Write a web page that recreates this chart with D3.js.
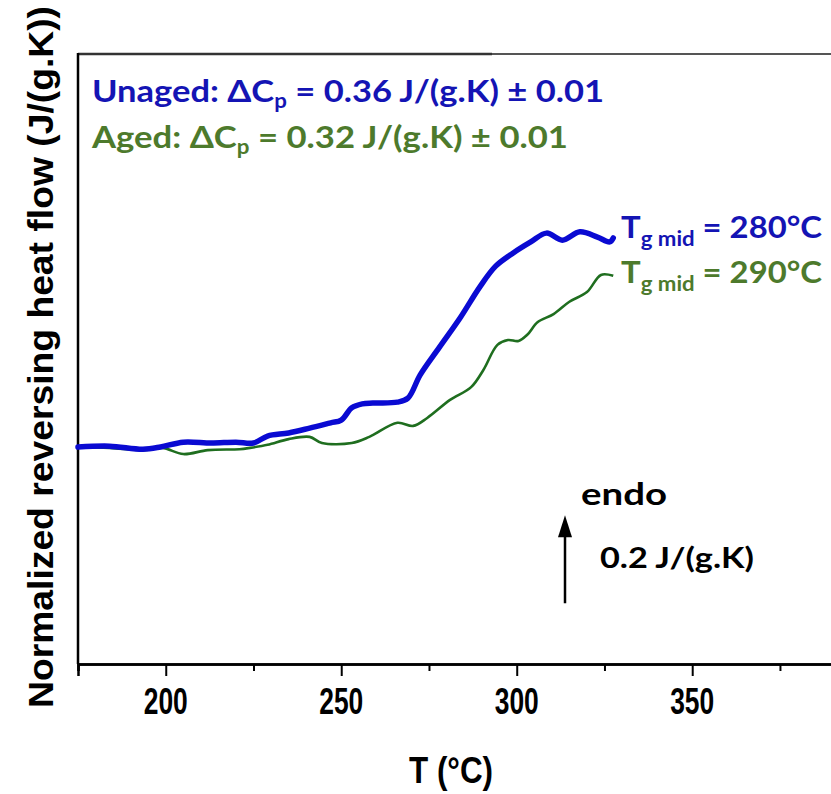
<!DOCTYPE html>
<html>
<head>
<meta charset="utf-8">
<script src="https://cdn.jsdelivr.net/npm/d3@7"></script>
<style>
  body { margin: 0; background: #fff; }
  svg { display: block; }
</style>
</head>
<body>
<svg id="chart" width="831" height="794"></svg>
<script>
// Temperature (°C) and normalized reversing heat flow, J/(g.K), relative to baseline
const unagedT = [175, 184, 193.5, 198.5, 205, 213, 220, 225, 229, 235, 241, 247, 250, 253, 256, 259, 266, 269, 272.5, 278, 284, 289.5, 294, 299, 304, 308.5, 313, 318, 323, 326.5, 327.5];
const unagedHF = [0, 0.002, -0.005, 0, 0.011, 0.009, 0.011, 0.009, 0.025, 0.032, 0.043, 0.055, 0.061, 0.089, 0.098, 0.1, 0.102, 0.111, 0.164, 0.227, 0.295, 0.364, 0.411, 0.441, 0.466, 0.486, 0.47, 0.489, 0.477, 0.466, 0.475];

const agedT = [175, 184, 193.5, 199, 205, 212, 221, 224, 229, 235, 241, 244.5, 253, 258, 266, 270.5, 274.5, 281, 287, 290.5, 294.5, 297.5, 300.5, 303, 306, 310.5, 315, 320, 324, 327.5];
const agedHF = [0, -0.002, -0.007, -0.002, -0.016, -0.007, -0.005, -0.002, 0.005, 0.018, 0.023, 0.009, 0.009, 0.023, 0.055, 0.048, 0.066, 0.107, 0.136, 0.175, 0.232, 0.243, 0.241, 0.255, 0.284, 0.302, 0.33, 0.352, 0.391, 0.389];

const majorTicks = [200, 250, 300, 350];
const minorTicks = [175, 225, 275, 325, 375];

const svg = d3.select('#chart');

const plotLeft = 78, plotTop = 54, plotBottom = 664;

const x = d3.scaleLinear().domain([175, 390]).range([plotLeft, 832.6]);
const y = d3.scaleLinear().domain([-0.493, 0.893]).range([plotBottom, plotTop]);

const blue = '#0a0ad2';
const green = '#1f6e1f';
const blueText = '#1414b4';
const greenText = '#4d7a2c';

// frame: top border (dark then lighter), left axis
svg.append('line')
    .attr('x1', plotLeft).attr('x2', 492).attr('y1', plotTop).attr('y2', plotTop)
    .attr('stroke', '#333').attr('stroke-width', 2.5);
svg.append('line')
    .attr('x1', 492).attr('x2', 831).attr('y1', plotTop).attr('y2', plotTop)
    .attr('stroke', '#555').attr('stroke-width', 2);
svg.append('line')
    .attr('x1', plotLeft).attr('x2', plotLeft).attr('y1', plotTop - 1).attr('y2', plotBottom)
    .attr('stroke', '#000').attr('stroke-width', 2.5);

// x axis
const xAxisG = svg.append('g').attr('transform', `translate(0,${plotBottom})`);
xAxisG.call(d3.axisBottom(x).tickValues(majorTicks).tickSize(12).tickFormat(''));
xAxisG.append('g').call(d3.axisBottom(x).tickValues(minorTicks).tickSize(7).tickFormat(''));
xAxisG.selectAll('.domain').attr('stroke-width', 2.5);
xAxisG.selectAll('.tick line').attr('stroke-width', 2);
xAxisG.select('g').select('.domain').remove();

svg.append('g')
    .selectAll('text')
    .data(majorTicks)
    .join('text')
    .attr('x', (d) => x(d))
    .attr('y', 714)
    .attr('text-anchor', 'middle')
    .attr('font-family', 'Liberation Sans, Arial, sans-serif')
    .attr('font-weight', 'bold')
    .attr('font-size', 37)
    .attr('textLength', 44)
    .attr('lengthAdjust', 'spacingAndGlyphs')
    .text((d) => d);

svg.append('text')
    .attr('x', 451)
    .attr('y', 783)
    .attr('text-anchor', 'middle')
    .attr('font-family', 'Liberation Sans, Arial, sans-serif')
    .attr('font-weight', 'bold')
    .attr('font-size', 36)
    .attr('textLength', 84)
    .attr('lengthAdjust', 'spacingAndGlyphs')
    .text('T (°C)');

// y axis title
svg.append('text')
    .attr('transform', 'translate(53,357) rotate(-90)')
    .attr('text-anchor', 'middle')
    .attr('font-family', 'Liberation Sans, Arial, sans-serif')
    .attr('font-weight', 'bold')
    .attr('font-size', 35)
    .attr('textLength', 702)
    .attr('lengthAdjust', 'spacingAndGlyphs')
    .text('Normalized reversing heat flow (J/(g.K))');

// curves
const line = d3.line()
    .x((d) => x(d[0]))
    .y((d) => y(d[1]))
    .curve(d3.curveCatmullRom);

svg.append('path')
    .datum(d3.zip(agedT, agedHF))
    .attr('fill', 'none')
    .attr('stroke', green)
    .attr('stroke-width', 2.6)
    .attr('stroke-linejoin', 'round')
    .attr('d', line);

svg.append('path')
    .datum(d3.zip(unagedT, unagedHF))
    .attr('fill', 'none')
    .attr('stroke', blue)
    .attr('stroke-width', 5.5)
    .attr('stroke-linejoin', 'round')
    .attr('stroke-linecap', 'round')
    .attr('d', line);

// annotations
const annFont = 'Lato, Open Sans, sans-serif';

const dcp = (yPos, color, label, value, len) => {
    const t = svg.append('text')
        .attr('x', 92)
        .attr('y', yPos)
        .attr('fill', color)
        .attr('font-family', annFont)
        .attr('font-weight', 'bold')
        .attr('font-size', 31)
        .attr('textLength', len)
        .attr('lengthAdjust', 'spacingAndGlyphs');
    t.append('tspan').text(label + ' \u0394C');
    t.append('tspan').attr('font-size', 20).attr('dy', 6).text('p');
    t.append('tspan').attr('dy', -6).text(' = ' + value + ' J/(g.K) \u00b1 0.01');
};
dcp(102, blueText, 'Unaged:', '0.36', 512);
dcp(148, greenText, 'Aged:', '0.32', 476);

const tg = (yPos, color, value) => {
    const t = svg.append('text')
        .attr('x', 621)
        .attr('y', yPos)
        .attr('fill', color)
        .attr('font-family', annFont)
        .attr('font-weight', 'bold')
        .attr('font-size', 31)
        .attr('textLength', 201)
        .attr('lengthAdjust', 'spacingAndGlyphs');
    t.append('tspan').text('T');
    t.append('tspan').attr('font-size', 21).attr('dy', 8).text('g mid');
    t.append('tspan').attr('dy', -8).text(' = ' + value + '°C');
};
tg(238, blueText, '280');
tg(283, greenText, '290');

// endo arrow, length = 0.2 J/(g.K) on the y scale
const arrowX = 565;
const arrowBase = -0.355;
const y0 = y(arrowBase), y1 = y(arrowBase + 0.2);
svg.append('line')
    .attr('x1', arrowX).attr('x2', arrowX)
    .attr('y1', y0).attr('y2', y1 + 18)
    .attr('stroke', '#000').attr('stroke-width', 2.5);
svg.append('path')
    .attr('d', `M${arrowX},${y1} L${arrowX - 7},${y1 + 22} L${arrowX + 7},${y1 + 22} Z`)
    .attr('fill', '#000');

svg.append('text')
    .attr('x', 581).attr('y', 505)
    .attr('font-family', annFont).attr('font-weight', 'bold')
    .attr('font-size', 31)
    .attr('textLength', 86).attr('lengthAdjust', 'spacingAndGlyphs')
    .text('endo');

svg.append('text')
    .attr('x', 600).attr('y', 568)
    .attr('font-family', annFont).attr('font-weight', 'bold')
    .attr('font-size', 28)
    .attr('textLength', 154).attr('lengthAdjust', 'spacingAndGlyphs')
    .text('0.2 J/(g.K)');
</script>
</body>
</html>
